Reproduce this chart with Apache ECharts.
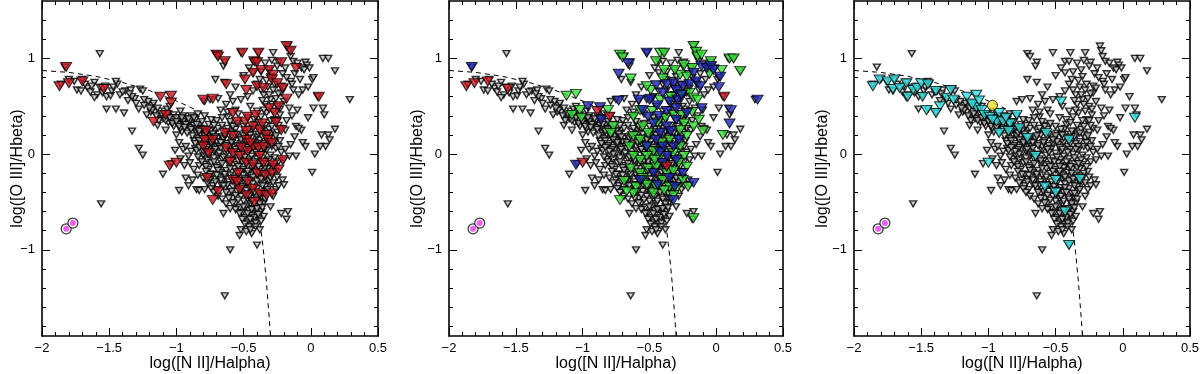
<!DOCTYPE html>
<html><head><meta charset="utf-8">
<script src="https://cdn.jsdelivr.net/npm/echarts@6/dist/echarts.min.js"></script>
<style>html,body{margin:0;padding:0;background:#fff}#c{width:1200px;height:374px}</style>
</head><body><div id="c"></div>
<script>
// ---------------- data ----------------
const xTickValues = [-2, -1.5, -1, -0.5, 0, 0.5];
const yTickValues = [-1, 0, 1];
const yMinorTicks = [-1.8,-1.6,-1.4,-1.2,-1,-0.8,-0.6,-0.4,-0.2,0,0.2,0.4,0.6,0.8,1,1.2,1.4];
const xTitle = 'log([N II]/Halpha)';
const yTitle = 'log([O III]/Hbeta)';

// dashed demarcation curve
const demarcation = [[-2.0,0.874],[-1.8,0.854],[-1.6,0.813],[-1.4,0.749],[-1.2,0.664],[-1.0,0.556],[-0.9,0.493],[-0.8,0.422],[-0.7,0.335],[-0.6,0.213],[-0.55,0.123],[-0.5,-0.007],[-0.45,-0.204],[-0.4,-0.521],[-0.37,-0.80],[-0.35,-1.042],[-0.33,-1.338],[-0.31,-1.702],[-0.30,-1.90]];

// all galaxies (small open triangles)
const allGalaxies = [
[-1.83,0.91],[-1.57,1.05],
[-1.80,0.78],[-1.76,0.76],[-1.70,0.78],[-1.74,0.67],[-1.71,0.66],[-1.61,0.75],[-1.57,0.70],[-1.59,0.62],[-1.61,0.59],[-1.52,0.60],[-1.52,0.47],[-1.49,0.61],[-1.45,0.47],[-1.44,0.73],[-1.45,0.76],[-1.38,0.66],[-1.34,0.67],[-1.39,0.43],[-1.31,0.58],[-1.30,0.53],[-1.27,0.68],[-1.25,0.66],[-1.24,0.51],[-1.22,0.41],[-1.18,0.51],[-1.17,0.53],[-1.33,0.24],[-1.28,0.06],[-1.25,-0.01],[-1.56,-0.52],
[-1.86,0.73],[-1.66,0.69],[-1.64,0.65],[-1.55,0.64],[-1.48,0.66],[-1.42,0.62],[-1.36,0.56],[-1.33,0.60],[-1.28,0.47],[-1.21,0.55],[-1.19,0.44],
[-1.16,0.44],[-1.14,0.48],[-1.12,0.39],[-1.10,0.37],[-1.09,0.45],[-1.07,0.47],[-1.06,0.42],[-1.05,0.50],[-1.03,0.38],[-1.01,0.35],[-0.99,0.33],[-0.97,0.45],[-0.95,0.40],[-0.93,0.34],[-0.92,0.30],[-0.90,0.28],[-0.88,0.33],[-0.86,0.25],[-0.85,0.22],[-0.83,0.30],[-0.82,0.20],[-0.80,0.26],[-0.78,0.17],[-0.77,0.23],[-0.75,0.14],[-0.73,0.19],[-0.71,0.12],[-0.70,0.08],[-1.00,0.20],[-0.98,0.12],[-0.95,0.05],[-0.93,0.08],[-0.91,-0.02],[-0.89,0.03],[-0.87,0.14],[-1.04,-0.10],[-1.10,-0.21],[-0.98,-0.38],[-0.93,-0.25],[-0.87,-0.16],[-0.85,-0.37],[-0.83,-0.38],[-0.79,-0.37],[-0.96,0.23],[-1.08,0.25],[-1.14,0.30],
[-1.11,0.42],[-1.04,0.34],[-1.02,0.41],[-0.98,0.37],[-0.96,0.31],[-0.94,0.36],[-0.91,0.33],[-0.89,0.40],[-0.86,0.36],[-0.84,0.42],[-0.81,0.34],[-0.79,0.40],[-0.76,0.31],[-0.74,0.36],[-1.13,0.35],[-1.06,0.33],[-1.02,0.29],[-0.97,0.27],[-0.92,0.22],[-0.88,0.19],[-0.84,0.16],[-0.80,0.11],[-0.77,0.07],[-1.01,0.04],[-0.97,-0.05],[-0.94,-0.12],[-0.90,-0.09],[-0.88,-0.27],[-0.91,-0.33],[-0.84,-0.22],[-0.82,-0.05],[-0.86,0.06],[-0.83,-0.12],
[-1.03,0.36],[-1.00,0.38],[-0.99,0.31],[-0.95,0.34],[-0.93,0.31],[-0.90,0.35],[-0.87,0.30],[-0.85,0.27],[-0.82,0.27],[-0.79,0.22],[-0.76,0.19],[-0.74,0.25],[-0.72,0.22],[-0.69,0.17],
[-0.81,0.26],[-0.75,0.24],[-0.69,0.27],[-0.63,0.23],[-0.56,0.26],[-0.49,0.22],[-0.43,0.27],[-0.37,0.24],[-0.31,0.26],[-0.25,0.23],
[-0.79,0.19],[-0.73,0.21],[-0.66,0.18],[-0.61,0.20],[-0.53,0.17],[-0.46,0.21],[-0.40,0.18],[-0.34,0.20],[-0.28,0.17],
[-0.83,0.14],[-0.77,0.15],[-0.70,0.13],[-0.65,0.16],[-0.58,0.14],[-0.51,0.15],[-0.44,0.12],[-0.38,0.15],[-0.32,0.13],[-0.23,0.14],
[-0.81,0.09],[-0.74,0.10],[-0.68,0.08],[-0.62,0.11],[-0.55,0.09],[-0.48,0.10],[-0.41,0.08],[-0.35,0.11],[-0.29,0.08],
[-0.85,0.04],[-0.78,0.05],[-0.72,0.03],[-0.67,0.06],[-0.60,0.04],[-0.53,0.06],[-0.46,0.03],[-0.39,0.05],[-0.33,0.04],[-0.26,0.06],
[-0.80,-0.01],[-0.75,0.01],[-0.69,-0.02],[-0.63,0.00],[-0.57,-0.01],[-0.50,0.01],[-0.44,-0.02],[-0.37,0.00],[-0.30,-0.01],
[-0.77,-0.06],[-0.72,-0.04],[-0.66,-0.05],[-0.59,-0.07],[-0.52,-0.04],[-0.46,-0.06],[-0.40,-0.05],[-0.34,-0.07],[-0.27,-0.04],
[-0.79,-0.11],[-0.74,-0.09],[-0.68,-0.12],[-0.61,-0.10],[-0.55,-0.11],[-0.48,-0.09],[-0.42,-0.12],[-0.36,-0.10],[-0.30,-0.11],
[-0.76,-0.16],[-0.70,-0.14],[-0.63,-0.17],[-0.57,-0.15],[-0.50,-0.16],[-0.44,-0.14],[-0.38,-0.16],[-0.32,-0.15],
[-0.73,-0.21],[-0.67,-0.19],[-0.60,-0.22],[-0.54,-0.20],[-0.47,-0.21],[-0.41,-0.19],[-0.35,-0.22],[-0.29,-0.20],
[-0.71,-0.26],[-0.64,-0.24],[-0.58,-0.27],[-0.51,-0.25],[-0.45,-0.26],[-0.39,-0.24],[-0.33,-0.27],
[-0.67,-0.31],[-0.61,-0.29],[-0.55,-0.32],[-0.49,-0.30],[-0.43,-0.31],[-0.37,-0.29],[-0.31,-0.32],
[-0.64,-0.36],[-0.58,-0.34],[-0.52,-0.37],[-0.46,-0.35],[-0.40,-0.36],[-0.34,-0.34],
[-0.61,-0.41],[-0.55,-0.39],[-0.49,-0.42],[-0.44,-0.40],[-0.38,-0.41],[-0.33,-0.39],
[-0.58,-0.46],[-0.52,-0.44],[-0.47,-0.47],[-0.41,-0.45],[-0.36,-0.46],
[-0.56,-0.51],[-0.50,-0.49],[-0.45,-0.52],[-0.39,-0.50],[-0.35,-0.51],
[-0.53,-0.56],[-0.48,-0.54],[-0.43,-0.57],[-0.38,-0.55],
[-0.51,-0.61],[-0.46,-0.59],[-0.41,-0.62],[-0.37,-0.60],
[-0.49,-0.66],[-0.44,-0.64],[-0.39,-0.67],
[-0.47,-0.71],[-0.42,-0.69],
[-0.78,0.22],[-0.71,0.18],[-0.67,0.12],[-0.64,0.19],[-0.60,0.08],[-0.58,0.22],[-0.55,0.02],[-0.52,0.11],[-0.49,-0.03],[-0.47,0.07],[-0.44,0.17],[-0.42,-0.08],[-0.39,0.11],[-0.36,-0.04],[-0.33,0.08],[-0.31,-0.06],
[-0.72,-0.08],[-0.69,-0.17],[-0.66,-0.10],[-0.64,-0.21],[-0.62,-0.05],[-0.60,-0.15],[-0.57,-0.24],[-0.54,-0.07],[-0.52,-0.18],[-0.49,-0.26],[-0.47,-0.13],[-0.45,-0.22],[-0.43,-0.35],[-0.40,-0.28],[-0.38,-0.20],[-0.36,-0.33],[-0.34,-0.14],[-0.32,-0.23],
[-0.62,-0.32],[-0.59,-0.39],[-0.56,-0.43],[-0.53,-0.29],[-0.51,-0.34],[-0.48,-0.38],[-0.46,-0.44],[-0.44,-0.49],[-0.42,-0.40],[-0.40,-0.47],[-0.38,-0.52],[-0.36,-0.41],[-0.54,-0.48],[-0.50,-0.55],[-0.47,-0.62],[-0.44,-0.58],[-0.42,-0.66],[-0.40,-0.57],[-0.45,-0.68],[-0.43,-0.74],
[-0.74,0.12],[-0.71,0.05],[-0.68,0.01],[-0.65,-0.03],[-0.63,0.09],[-0.61,-0.07],[-0.59,0.12],[-0.56,0.05],[-0.54,-0.13],[-0.51,-0.08],[-0.49,0.13],[-0.47,-0.18],[-0.45,0.05],[-0.43,-0.24],[-0.41,0.02],[-0.39,-0.13],[-0.37,-0.26],[-0.35,0.05],[-0.33,-0.10],[-0.31,-0.28],
[-0.70,-0.22],[-0.67,-0.27],[-0.65,-0.33],[-0.63,-0.40],[-0.61,-0.46],[-0.58,-0.51],[-0.56,-0.58],[-0.53,-0.62],[-0.51,-0.68],[-0.49,-0.73],[-0.46,-0.76],[-0.44,-0.83],[-0.41,-0.72],[-0.39,-0.63],[-0.36,-0.56],[-0.34,-0.47],[-0.32,-0.37],[-0.30,-0.25],[-0.28,-0.30],[-0.26,-0.37],
[-0.77,0.00],[-0.80,0.03],[-0.83,0.07],[-0.86,0.11],[-0.84,-0.03],[-0.81,-0.08],[-0.78,-0.13],[-0.75,-0.27],[-0.73,-0.33],[-0.70,-0.37],
[-0.62,0.27],[-0.59,0.30],[-0.55,0.21],[-0.50,0.19],[-0.46,0.26],[-0.42,0.31],[-0.39,0.21],[-0.36,0.18],[-0.30,0.21],[-0.27,0.12],[-0.24,0.08],[-0.22,0.02],[-0.24,-0.08],[-0.26,-0.18],
[-1.08,0.35],[-1.05,0.38],[-1.03,0.32],[-1.00,0.34],[-0.98,0.29],[-0.96,0.38],[-0.94,0.28],[-0.91,0.37],[-0.89,0.26],[-0.87,0.38],[-0.85,0.31],[-0.83,0.24],[-1.15,0.40],[-1.18,0.46],[-1.20,0.48],[-1.24,0.57],[-1.35,0.63],[-1.40,0.65],[-1.47,0.70],[-1.53,0.71],[-1.63,0.71],[-1.68,0.73],
[-0.52,-0.79],[-0.48,-0.81],[-0.45,-0.79],[-0.41,-0.76],[-0.37,-0.70],[-0.35,-0.65],[-0.38,-0.79],[-0.53,-0.85],[-0.60,-1.00],[-0.64,-1.48],[-0.40,-0.95],
[-0.80,-0.25],[-0.77,-0.30],[-0.74,-0.36],[-0.72,-0.40],[-0.69,-0.44],[-0.66,-0.47],[-0.63,-0.52],[-0.60,-0.57],[-0.65,-0.62],[-0.71,-0.29],[-0.75,-0.21],[-0.78,-0.18],
[-0.27,-0.13],[-0.25,-0.24],[-0.24,-0.33],[-0.21,-0.27],[-0.20,-0.32],[-0.20,-0.06],[-0.16,-0.02],[-0.11,-0.02],[-0.22,-0.62],[-0.17,-0.60],[-0.18,-0.68],[-0.28,-0.44],[-0.30,-0.55],
[-0.71,1.05],[-0.69,1.02],[-0.64,0.96],[-0.65,0.92],[-0.71,0.78],[-0.64,0.75],[-0.52,1.06],[-0.39,1.06],[-0.28,1.06],[-0.43,0.97],[-0.40,0.97],[-0.43,0.85],[-0.37,0.86],[-0.31,0.88],[-0.30,0.81],[-0.24,0.96],[-0.25,0.92],[-0.21,0.84],[-0.17,1.13],[-0.16,1.08],[-0.15,1.02],[-0.13,0.97],[-0.10,0.95],[-0.04,0.96],[-0.03,0.93],[-0.01,0.90],[-0.07,0.90],[-0.05,0.88],[-0.15,0.76],[-0.14,0.73],[-0.13,0.67],[-0.09,0.62],[-0.06,0.67],[-0.02,0.70],[0.01,0.78],[0.02,0.80],[0.05,0.60],[-0.02,0.38],[-0.10,0.46],[-0.11,0.29],[-0.07,0.25],[-0.09,0.27],[0.02,0.48],[0.09,0.48],[0.10,0.41],[0.08,0.20],[0.13,0.20],[0.11,0.08],[0.07,0.08],[0.18,0.26],[0.14,0.15],[-0.04,0.08],[-0.06,0.12],[0.01,-0.19],[0.03,0.00],[0.29,0.57],[0.09,1.00],[0.13,1.00],[0.18,0.87],
[-0.79,0.55],[-0.75,0.57],[-0.63,0.52],[-0.67,0.46],[-0.62,0.39],[-0.56,0.46],[-0.52,0.57],[-0.47,0.60],[-0.43,0.66],[-0.40,0.73],[-0.37,0.67],[-0.35,0.62],[-0.32,0.70],[-0.30,0.57],[-0.27,0.73],[-0.22,0.71],[-0.22,0.64],[-0.25,0.50],[-0.28,0.45],[-0.33,0.43],[-0.37,0.39],[-0.42,0.36],[-0.47,0.38],[-0.50,0.29],[-0.54,0.32],[-0.58,0.29],[-0.27,0.36],[-0.23,0.41],[-0.22,0.27],[-0.19,0.25],[-0.26,0.19],[-0.32,0.22],[-0.38,0.24],[-0.45,0.20],[-0.52,0.15],
[-0.60,0.62],[-0.56,0.70],[-0.50,0.82],[-0.46,0.90],[-0.34,0.95],[-0.29,0.98],[-0.19,0.90],[-0.18,0.80],[-0.12,0.84],[-0.08,0.78],[-0.20,0.55],[-0.16,0.48],[-0.14,0.40],[-0.18,0.35],[-0.12,0.18],[-0.15,0.10],[-0.19,0.05],[-0.54,0.42],[-0.60,0.34],[-0.66,0.30],[-0.69,0.58],[-0.58,0.55],[-0.45,0.50],[-0.40,0.45],[-0.34,0.52],[-0.30,0.35],[-0.26,0.58],[-0.24,0.30],
[-0.70,0.35],[-0.72,0.30],[-0.66,0.38],[-0.62,0.44],
[-0.38,0.78],[-0.33,0.77],[-0.28,0.67],[-0.24,0.63],[-0.20,0.69],[-0.31,0.62],[-0.36,0.56],[-0.29,0.52],[-0.23,0.47],[-0.35,0.46],[-0.39,0.33],[-0.34,0.30],[-0.29,0.29],[-0.25,0.35]
];

// panel 1: red subset
const panel1Red = [
[-1.82,0.91],[-1.87,0.71],[-1.80,0.74],[-1.70,0.76],[-1.54,0.68],[-1.12,0.60],[-1.04,0.61],[-1.04,0.54],[-1.17,0.34],[-1.08,0.41],[-1.05,-0.12],[-1.00,-0.09],
[-0.80,0.57],[-0.73,0.58],[-0.70,1.04],[-0.69,1.02],[-0.64,0.97],[-0.63,0.73],[-0.51,1.06],[-0.49,0.78],[-0.48,0.67],[-0.42,0.97],[-0.39,1.06],[-0.40,0.96],[-0.40,0.71],[-0.35,0.69],[-0.43,0.85],[-0.37,0.88],[-0.31,0.88],[-0.28,0.83],[-0.29,0.78],[-0.25,0.74],[-0.22,0.96],[-0.18,1.13],[-0.15,1.08],[-0.11,0.90],[-0.18,0.58],[-0.21,0.69],[-0.24,0.50],[-0.27,0.43],[-0.31,0.48],
[-0.22,0.25],[-0.33,0.20],[-0.38,0.25],[-0.43,0.29],[-0.48,0.24],[-0.55,0.34],[-0.49,0.34],[-0.47,0.39],[-0.41,0.41],[-0.58,0.43],[0.06,0.60],
[-0.78,0.24],[-0.79,0.15],[-0.80,0.08],[-0.76,0.01],[-0.77,-0.25],[-0.73,-0.48],[-0.69,-0.39],[-0.63,0.06],[-0.58,0.01],[-0.53,-0.02],[-0.47,0.03],[-0.48,-0.09],[-0.43,0.08],[-0.39,0.07],[-0.35,0.08],[-0.32,0.15],[-0.29,0.12],[-0.38,-0.02],[-0.35,-0.09],[-0.43,-0.11],
[-0.54,-0.20],[-0.58,-0.27],[-0.55,-0.29],[-0.47,-0.29],[-0.40,-0.20],[-0.34,-0.22],[-0.29,-0.20],[-0.24,-0.16],[-0.21,-0.06],[-0.28,-0.11],[-0.43,-0.36],[-0.38,-0.41],[-0.33,-0.43],[-0.29,-0.41],[-0.42,-0.50],[-0.48,-0.43],[-0.53,-0.37],[-0.60,-0.08],
[-0.73,0.15],[-0.64,0.22],[-0.58,0.19],[-0.48,0.15],[-0.45,0.12],[-0.52,0.07],[-0.36,0.32],[-0.26,0.33]
];

// panel 2 subsets
const panel2Red = [[-1.87,0.71],[-1.81,0.74],[-1.71,0.76],[-1.56,0.68],[-0.89,0.45],[-0.80,0.39],[-1.00,-0.09],[0.06,0.60],[-0.37,-0.13]];
const panel2Blue = [
[-1.83,0.91],[-1.05,-0.11],[-0.96,0.50],[-0.87,0.49],[-0.86,0.36],[-0.73,0.56],[-0.73,0.84],[-0.66,0.95],[-0.52,1.06],[-0.58,0.57],[-0.49,0.58],[-0.44,0.51],[-0.40,0.64],[-0.37,0.73],[-0.32,0.74],[-0.30,0.67],[-0.29,0.57],[-0.25,0.71],[-0.20,0.73],[-0.17,0.85],[-0.15,0.76],[-0.12,0.71],[-0.11,0.92],[-0.07,0.90],[-0.04,0.92],[-0.02,0.88],[0.03,0.81],[0.02,0.70],[0.11,0.46],[0.10,0.32],[0.31,0.57],[-0.11,0.48],
[-0.17,-0.30],[-0.32,-0.48],[-0.31,-0.34],[-0.40,-0.09],[-0.37,-0.02],[-0.32,0.08],[-0.40,0.08],[-0.45,0.15],[-0.42,0.22],[-0.37,0.29],[-0.30,0.36],[-0.47,0.32],[-0.51,0.39],[-0.43,0.40],[-0.37,0.45],[-0.30,0.48],[-0.47,-0.20],[-0.57,-0.27],[-0.22,0.43],[-0.50,0.57],[-0.28,0.15],[-0.34,0.24],[-0.25,-0.20],[-0.30,-0.06],
[-0.55,0.46],[-0.45,0.72],[-0.35,0.55],[-0.26,0.62],[-0.42,0.02],[-0.35,-0.25],[-0.52,0.08],[-0.44,-0.32]
];
const panel2Green = [
[-0.72,1.04],[-0.70,1.01],[-0.42,1.06],[-0.39,1.06],[-0.64,0.79],[-0.17,1.13],[-0.15,1.07],[-0.14,1.02],[-0.11,1.04],[-0.04,0.97],[0.10,1.00],[0.13,1.00],[0.18,0.87],[0.04,0.88],[-0.05,0.84],[-0.18,0.90],[-0.27,0.83],[-0.31,0.88],[-0.39,0.88],[-0.45,0.97],[-0.40,0.79],[-0.49,0.67],[-0.52,0.71],[-0.24,0.93],[-0.20,0.64],[-0.17,0.59],[-0.14,0.57],
[-0.26,0.41],[-0.24,0.32],[-0.27,0.25],[-0.22,0.19],[-0.17,0.29],[-0.10,0.24],[0.05,0.20],[-0.27,0.08],[-0.24,-0.02],[-0.22,-0.13],[-0.25,-0.27],[-0.30,-0.37],[-0.21,-0.34],[-0.17,-0.67],[-0.32,-0.43],[-0.35,-0.34],[-0.40,-0.27],[-0.45,-0.34],[-0.47,-0.41],[-0.52,-0.32],[-0.60,-0.34],[-0.62,-0.41],[-0.67,-0.39],[-0.72,-0.48],[-0.69,-0.28],[-0.57,-0.20],[-0.51,-0.15],[-0.45,-0.13],[-0.37,-0.20],[-0.32,-0.18],[-0.42,-0.02],[-0.47,0.03],[-0.52,-0.02],[-0.57,-0.06],[-0.62,-0.02],[-0.65,0.08],[-0.77,0.29],[-0.79,0.22],[-0.81,0.46],
[-1.12,0.61],[-1.05,0.63],[-1.08,0.41],[-1.02,0.46],[-1.01,0.38],[-0.62,0.39],[-0.57,0.46],[-0.62,0.19],[-0.57,0.15],[-0.51,0.22],[-0.35,0.15],[-0.32,0.01],[-0.52,0.08],[-0.55,0.29],[-0.32,0.41],[-0.26,0.62],[-0.42,0.57],[-0.22,0.81],
[-0.48,0.45],[-0.44,0.33],[-0.38,0.38],[-0.34,0.60],[-0.41,0.12],[-0.46,-0.06],[-0.39,-0.38],[-0.28,-0.09],[-0.55,-0.25],[-0.64,-0.15],[-0.18,0.44],[-0.13,0.36]
];

// panel 3 subsets
const panel3Cyan = [
[-1.86,0.71],[-1.81,0.78],[-1.75,0.76],[-1.70,0.78],[-1.71,0.68],[-1.66,0.69],[-1.61,0.74],[-1.60,0.60],[-1.56,0.67],[-1.53,0.69],[-1.50,0.74],[-1.45,0.73],[-1.49,0.60],[-1.46,0.46],[-1.39,0.66],[-1.36,0.50],[-1.39,0.43],[-1.31,0.59],[-1.28,0.67],[-1.26,0.57],[-1.16,0.60],[-1.13,0.53],[-1.09,0.62],[-1.09,0.49],[-1.05,0.46],[-1.03,0.41],[-0.92,0.43],[-0.94,0.34],[-0.89,0.34],[-0.84,0.32],[-0.79,0.41],[-0.85,0.24],[-0.92,0.22],[-0.77,0.27],
[-1.00,-0.09],[-0.65,-0.02],[-0.58,-0.34],[-0.50,-0.27],[-0.50,-0.40],[-0.43,-0.60],[-0.40,-0.95],[-0.46,0.55],[-0.40,0.15],[-0.57,0.22],[-0.71,0.17],[-0.32,-0.26],[0.09,0.38],
[-1.12,0.52],[-1.07,0.56],[-0.99,0.39],[-0.97,0.36],[-0.87,0.38]
];
const panel3Yellow = [[-0.97,0.51]];
const magentaPts = [[-1.82,-0.78],[-1.77,-0.72]];

// ---------------- chart ----------------
const DOWN_TRI = 'path://M0,0 L10,0 L5,8 Z';
const FONT = 'Liberation Sans';
const grids = [
  {left: 42, right: 822, top: 1, bottom: 38},
  {left: 449, right: 417, top: 1, bottom: 38},
  {left: 854, right: 10, top: 1, bottom: 38}
].map(g => Object.assign(g, {outerBoundsMode: 'none', containLabel: false, show: false}));
const yNameGaps = [16, 23, 23];
const fmt = v => (Math.abs(v) < 1e-9 ? '0' : String(+v.toFixed(2)).replace('-', '\u2212'));

const xAxes = [], yAxes = [], series = [];
const tickStyle = () => ({color: '#000', width: 1});
const frameLine = () => ({show: true, onZero: false, lineStyle: {color: '#000', width: 1.6}});
grids.forEach((g, p) => {
  ['bottom', 'top'].forEach((pos, k) => {
    xAxes.push({
      gridIndex: p, type: 'value', position: pos, min: -2, max: 0.5, interval: 0.5,
      axisLine: frameLine(),
      axisTick: {show: true, inside: true, length: 8, lineStyle: tickStyle()},
      minorTick: {show: true, splitNumber: 5, length: 4, lineStyle: tickStyle()},
      splitLine: {show: false}, minorSplitLine: {show: false},
      axisLabel: k === 0 ? {show: true, margin: 6, color: '#000', fontFamily: FONT, fontSize: 13,
        customValues: xTickValues, formatter: fmt} : {show: false},
      name: k === 0 ? xTitle : '', nameLocation: 'middle', nameGap: 20, nameMoveOverlap: false,
      nameTextStyle: {color: '#000', fontFamily: FONT, fontSize: 16}
    });
  });
  ['left', 'right'].forEach((pos, k) => {
    yAxes.push({
      gridIndex: p, type: 'value', position: pos, min: -1.9, max: 1.6,
      axisLine: frameLine(),
      axisTick: {show: true, inside: true, length: 8, customValues: yTickValues, lineStyle: tickStyle()},
      splitLine: {show: false},
      axisLabel: k === 0 ? {show: true, margin: 7, color: '#000', fontFamily: FONT, fontSize: 13,
        customValues: yTickValues, formatter: fmt} : {show: false},
      name: k === 0 ? yTitle : '', nameLocation: 'middle', nameGap: yNameGaps[p], nameRotate: 90, nameMoveOverlap: false,
      nameTextStyle: {color: '#000', fontFamily: FONT, fontSize: 16}
    });
    yAxes.push({
      gridIndex: p, type: 'value', position: pos, min: -1.9, max: 1.6,
      axisLine: {show: false, onZero: false},
      axisTick: {show: true, inside: true, length: 4, customValues: yMinorTicks, lineStyle: tickStyle()},
      splitLine: {show: false}, axisLabel: {show: false}
    });
  });
  const xi = 2 * p, yi = 4 * p;
  series.push({
    type: 'line', xAxisIndex: xi, yAxisIndex: yi, data: demarcation, showSymbol: false, silent: true,
    lineStyle: {color: '#000', width: 1, type: [5, 4]}, z: 1
  });
  series.push({
    type: 'scatter', xAxisIndex: xi, yAxisIndex: yi, data: allGalaxies, symbol: DOWN_TRI, symbolSize: [7, 6],
    itemStyle: {color: '#c2c2c2', borderColor: '#000', borderWidth: 1.4}, z: 2
  });
  const big = (data, color, z) => series.push({
    type: 'scatter', xAxisIndex: xi, yAxisIndex: yi, data: data, symbol: DOWN_TRI, symbolSize: [11, 9],
    itemStyle: {color: color, borderColor: '#000', borderWidth: 1}, z: z || 3
  });
  if (p === 0) big(panel1Red, '#c8141c');
  if (p === 1) { big(panel2Green, '#33e033', 3); big(panel2Blue, '#1a24b4', 4); big(panel2Red, '#c8141c', 5); }
  if (p === 2) {
    big(panel3Cyan, '#30dede');
    series.push({type: 'scatter', xAxisIndex: xi, yAxisIndex: yi, data: panel3Yellow, symbol: 'circle', symbolSize: 10,
      itemStyle: {color: '#f0e030', borderColor: '#000', borderWidth: 1}, z: 6});
  }
  series.push({type: 'scatter', xAxisIndex: xi, yAxisIndex: yi, data: magentaPts, symbol: 'circle', symbolSize: 10,
    itemStyle: {color: '#ffffff', borderColor: '#000', borderWidth: 1.2}, z: 7});
  series.push({type: 'scatter', xAxisIndex: xi, yAxisIndex: yi, data: magentaPts, symbol: 'circle', symbolSize: 6,
    itemStyle: {color: '#f033f0'}, z: 8});
});

const chart = echarts.init(document.getElementById('c'), null, {renderer: 'canvas'});
chart.setOption({
  animation: false,
  backgroundColor: '#fff',
  grid: grids,
  xAxis: xAxes,
  yAxis: yAxes,
  series: series
});
</script></body></html>
